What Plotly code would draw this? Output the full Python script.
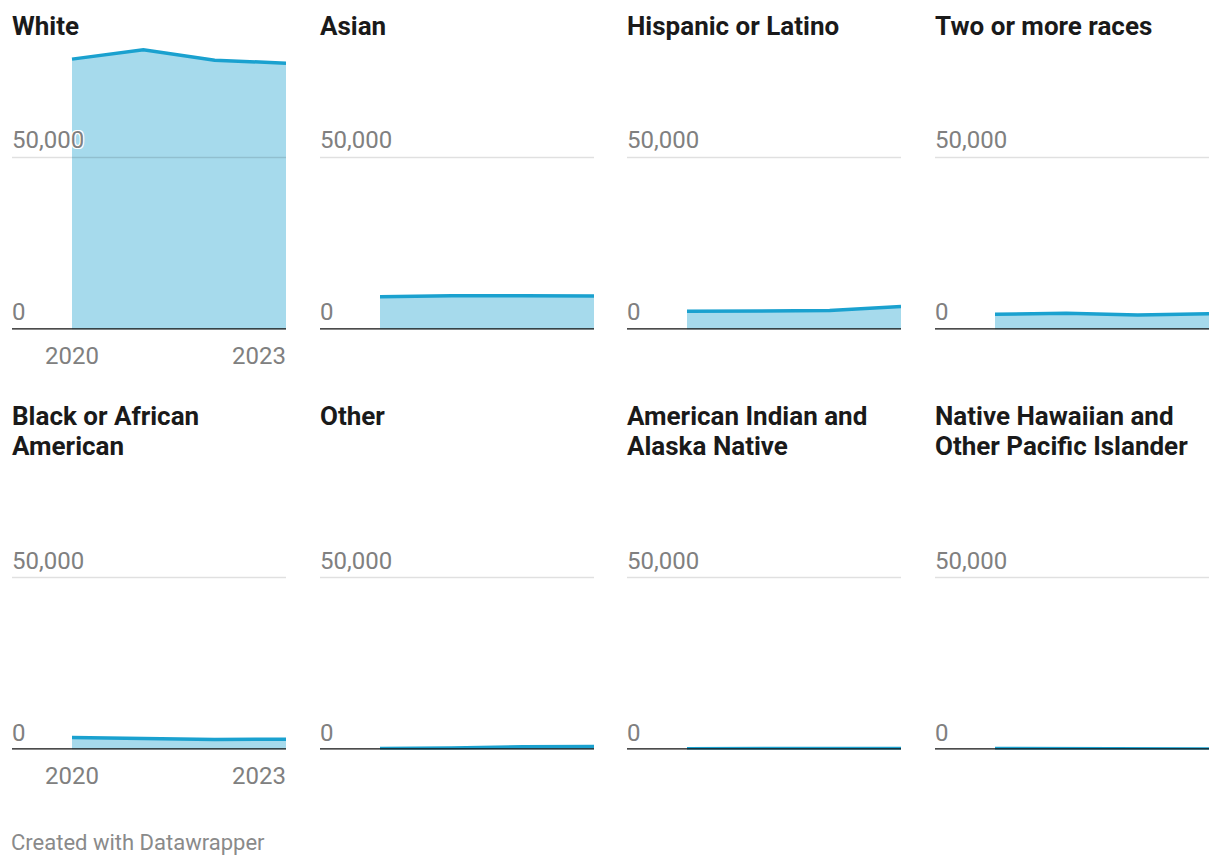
import plotly.graph_objects as go

years = [2020, 2021, 2022, 2023]
groups = ["White", "Asian", "Hispanic or Latino", "Two or more races",
          "Black or African<br>American", "Other", "American Indian and<br>Alaska Native",
          "Native Hawaiian and<br>Other Pacific Islander"]
white = [78600, 81300, 78300, 77400]
asian = [9500, 9800, 9800, 9750]
hispanic = [5300, 5500, 5500, 6700]
two_more = [4400, 4700, 4200, 4600]
black = [3500, 3300, 2900, 3000]
other = [300, 400, 800, 850]
aian = [250, 250, 250, 300]
nhpi = [300, 250, 150, 150]
series = [white, asian, hispanic, two_more, black, other, aian, nhpi]
y_ticks = [0, 50000]
y_tick_labels = ["0", "50,000"]
x_tick_labels = ["2020", "2023"]

W, H = 1220, 866
col_x = [12, 320, 627, 935]
panel_w = 274
row_zero = [329.5, 749.5]
row_title_top = [8.5, 398.5]
title_line_h = 30
px_per_unit = 172 / 50000
y_max = 84000
x_left = 2020 - 60 / (214 / 3)

FILL = "#a6daec"
LINE = "#1aa1cf"
GRAY = "#808080"
FONT = "Roboto"

fig = go.Figure()
annotations = []
shapes = []

def px(x):
    return x / W

def py(y):
    return 1 - y / H

for i, (name, vals) in enumerate(zip(groups, series)):
    r, c = divmod(i, 4)
    x0 = col_x[c]
    x1 = x0 + panel_w
    z = row_zero[r]
    top = z - y_max * px_per_unit
    ax = "" if i == 0 else str(i + 1)
    fig.add_trace(go.Scatter(
        x=years, y=vals, mode="lines", fill="tozeroy", fillcolor=FILL,
        line=dict(color=LINE, width=3.5), xaxis="x" + ax, yaxis="y" + ax,
        showlegend=False, hoverinfo="skip"))
    fig.update_layout(**{
        "xaxis" + ax: dict(domain=[px(x0), px(x1)], range=[x_left, 2023],
                           visible=False, fixedrange=True, anchor="y" + ax),
        "yaxis" + ax: dict(domain=[py(z), py(top)], range=[0, y_max],
                           visible=False, fixedrange=True, anchor="x" + ax),
    })
    shapes.append(dict(type="line", xref="x" + ax + " domain", yref="y" + ax,
                       x0=0, x1=1, y0=y_ticks[1], y1=y_ticks[1],
                       line=dict(color="rgba(0,0,0,0.12)", width=1.5), layer="above"))
    shapes.append(dict(type="line", xref="x" + ax + " domain", yref="y" + ax,
                       x0=0, x1=1, y0=0, y1=0,
                       line=dict(color="#111111", width=2.5), layer="above"))
    for v, lab in zip(y_ticks, y_tick_labels):
        annotations.append(dict(
            xref="x" + ax + " domain", yref="y" + ax, x=0, y=v, text=lab,
            xanchor="left", yanchor="bottom", showarrow=False, yshift=1, xshift=-2,
            font=dict(family=FONT, size=24, color=GRAY,
                      shadow="1px 1px 0 #fff, -1px -1px 0 #fff, 1px -1px 0 #fff, -1px 1px 0 #fff"),
        ))
    for j, line_txt in enumerate(name.split("<br>")):
        annotations.append(dict(
            xref="paper", yref="paper", x=px(x0 - 2), y=py(row_title_top[r] + j * title_line_h),
            text="<b>" + line_txt + "</b>",
            xanchor="left", yanchor="top", align="left", showarrow=False,
            font=dict(family=FONT, size=26, color="#1a1a1a"),
        ))
    if c == 0:
        annotations.append(dict(
            xref="x" + ax, yref="paper", x=years[0], y=py(z + 10), text=x_tick_labels[0],
            xanchor="center", yanchor="top", showarrow=False,
            font=dict(family=FONT, size=24, color=GRAY)))
        annotations.append(dict(
            xref="x" + ax, yref="paper", x=years[-1], y=py(z + 10), text=x_tick_labels[1],
            xanchor="right", yanchor="top", showarrow=False, xshift=2,
            font=dict(family=FONT, size=24, color=GRAY)))

annotations.append(dict(
    xref="paper", yref="paper", x=px(9), y=py(842), text="Created with Datawrapper",
    xanchor="left", yanchor="middle", showarrow=False,
    font=dict(family=FONT, size=22, color="#8a8a8a")))

fig.update_layout(
    width=W, height=H, margin=dict(l=0, r=0, t=0, b=0),
    paper_bgcolor="#ffffff", plot_bgcolor="rgba(0,0,0,0)",
    annotations=annotations, shapes=shapes, font=dict(family=FONT),
)

fig.write_html("out.html", config={"displayModeBar": False},
               post_script="document.body.style.margin='0px';")
